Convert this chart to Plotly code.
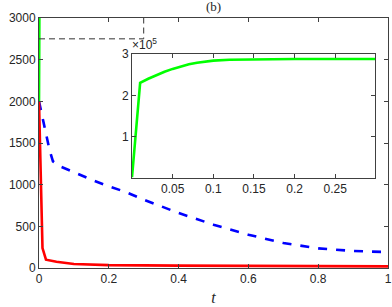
import plotly.graph_objects as go

# Data
t_red = [0, 0.01, 0.02, 0.05, 0.1, 0.2, 0.4, 0.6, 0.8, 1.0]
red = [2000, 240, 100, 75, 48, 35, 28, 24, 21, 20]

t_blue = [0, 0.01, 0.02, 0.03, 0.04, 0.06, 0.1, 0.15, 0.2, 0.25, 0.3, 0.4, 0.5, 0.6, 0.7, 0.8, 0.9, 1.0]
blue = [2000, 1800, 1600, 1420, 1280, 1220, 1150, 1060, 980, 910, 820, 660, 520, 400, 300, 235, 205, 190]

t_green = [0, 0.01, 0.02, 0.03, 0.04, 0.05, 0.06, 0.07, 0.08, 0.09, 0.1, 0.12, 0.15, 0.2, 0.3]
green = [2000, 230000, 240000, 249000, 257000, 264000, 270000, 275000, 279000, 282000, 284000, 286000, 287000, 288000, 288000]

zoom_t = [0, 0.3, 0.3]
zoom_y = [2750, 2750, 3000]

main_xticks = [0, 0.2, 0.4, 0.6, 0.8, 1]
main_xlabels = ["0", "0.2", "0.4", "0.6", "0.8", "1"]
main_yticks = [0, 500, 1000, 1500, 2000, 2500, 3000]
inset_xticks = [0.05, 0.1, 0.15, 0.2, 0.25]
inset_yticks = [100000, 200000, 300000]
inset_ylabels = ["1", "2", "3"]

W = 2.6
fig = go.Figure()
fig.add_trace(go.Scatter(x=t_blue, y=blue, mode="lines",
                         line=dict(color="#0000ff", width=W, dash="dash"), xaxis="x", yaxis="y"))
fig.add_trace(go.Scatter(x=t_green, y=green, mode="lines",
                         line=dict(color="#00ff00", width=W), xaxis="x", yaxis="y"))
fig.add_trace(go.Scatter(x=t_red, y=red, mode="lines",
                         line=dict(color="#ff0000", width=W), xaxis="x", yaxis="y"))
fig.add_trace(go.Scatter(x=zoom_t, y=zoom_y, mode="lines",
                         line=dict(color="#333333", width=1, dash="6px,4px"), xaxis="x", yaxis="y"))
fig.add_trace(go.Scatter(x=t_green, y=green, mode="lines",
                         line=dict(color="#00ff00", width=W), xaxis="x2", yaxis="y2"))

axcol = "#404040"
tickfont = dict(family="Liberation Sans, Arial", size=12, color="#262626")
common = dict(showline=True, linecolor=axcol, linewidth=1, mirror="ticks", ticks="inside",
              ticklen=4, tickcolor=axcol, showgrid=False, zeroline=False, tickfont=tickfont,
              automargin=False)

fig.update_layout(
    width=392, height=307,
    margin=dict(l=39, r=4, t=18, b=39, autoexpand=False),
    paper_bgcolor="white", plot_bgcolor="white",
    showlegend=False,
    xaxis=dict(domain=[0, 1], range=[0, 1], tickvals=main_xticks, ticktext=main_xlabels,
               title=dict(text="<i>t</i>", font=dict(family="Liberation Serif, serif", size=16, color="#262626"),
                          standoff=6),
               **common),
    yaxis=dict(domain=[0, 1], range=[0, 3000], tickvals=main_yticks, **common),
    xaxis2=dict(domain=[0.2665, 0.9628], range=[0, 0.299], tickvals=inset_xticks,
                anchor="y2", **common),
    yaxis2=dict(domain=[0.36, 0.856], range=[0, 300000], tickvals=inset_yticks, ticktext=inset_ylabels,
                anchor="x2", **common),
    annotations=[
        dict(text="(b)", x=0.5, xref="paper", y=1, yref="paper", yanchor="bottom", yshift=2,
             showarrow=False, font=dict(family="Liberation Serif, serif", size=13, color="#262626")),
        dict(text="×10<sup>5</sup>", x=0, xref="x2 domain", y=1, yref="y2 domain",
             xanchor="left", yanchor="bottom", xshift=-2, yshift=0, showarrow=False,
             font=dict(family="Liberation Sans, Arial", size=12, color="#262626")),
    ],
)

fig.write_html("out.html", config={"displayModeBar": False, "staticPlot": True},
               post_script="document.body.style.margin='0';document.body.style.overflow='hidden';")
